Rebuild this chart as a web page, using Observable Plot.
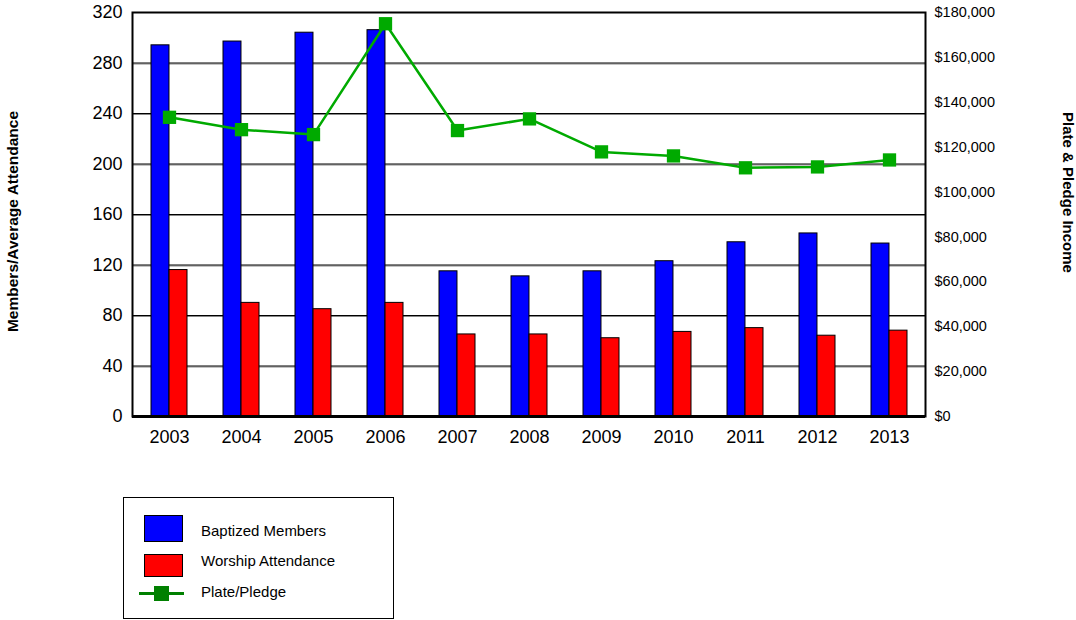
<!DOCTYPE html>
<html>
<head>
<meta charset="utf-8">
<script src="https://cdn.jsdelivr.net/npm/d3@7"></script>
<script src="https://cdn.jsdelivr.net/npm/@observablehq/plot@0.6"></script>
<style>
  body { margin: 0; background: #fff; font-family: "Liberation Sans", Arial, sans-serif; }
  #wrap { position: relative; width: 1076px; height: 620px; }
  #legend { position: absolute; left: 123px; top: 497px; width: 271px; height: 122px; border: 1px solid #000; box-sizing: border-box; }
  .sw { position: absolute; border: 1px solid #000; box-sizing: border-box; }
  .lt { position: absolute; left: 77px; font-size: 15px; color: #000; line-height: 17px; white-space: nowrap; }
</style>
</head>
<body>
<div id="wrap">
  <div id="chart"></div>
  <div id="legend">
    <div class="sw" style="left:20px;top:17px;width:39px;height:27px;background:#0000ff"></div>
    <div class="lt" style="top:24px">Baptized Members</div>
    <div class="sw" style="left:20px;top:56px;width:39px;height:23px;background:#ff0000"></div>
    <div class="lt" style="top:54px">Worship Attendance</div>
    <div style="position:absolute;left:15px;top:94px;width:45px;height:3px;background:#008000"></div>
    <div style="position:absolute;left:30px;top:88px;width:15px;height:15px;background:#008000"></div>
    <div class="lt" style="top:85px">Plate/Pledge</div>
  </div>
</div>
<script>
const years = ["2003","2004","2005","2006","2007","2008","2009","2010","2011","2012","2013"];
const baptized = [294, 297, 304, 306, 115, 111, 115, 123, 138, 145, 137];
const worship = [116, 90, 85, 90, 65, 65, 62, 67, 70, 64, 68];
const platePledge = [133300, 127800, 125600, 175000, 127400, 132600, 117900, 116100, 110800, 111200, 114300];
const leftTicks = [0, 40, 80, 120, 160, 200, 240, 280, 320];
const rightTicks = [0, 20000, 40000, 60000, 80000, 100000, 120000, 140000, 160000, 180000];

const leftMax = 320, rightMax = 180000;
const k = leftMax / rightMax;

const rows = years.map((y, i) => ({year: y, baptized: baptized[i], worship: worship[i], income: platePledge[i] * k}));
const fmt = d3.format(",");

const chart = Plot.plot({
  width: 1076,
  height: 460,
  marginLeft: 132,
  marginRight: 151,
  marginTop: 12,
  marginBottom: 44,
  style: {fontFamily: "'Liberation Sans', Arial, sans-serif", background: "#fff", overflow: "visible"},
  x: {type: "band", domain: years, paddingInner: 0.5, paddingOuter: 0.25, label: null},
  y: {domain: [0, leftMax], label: null},
  marks: [
    Plot.ruleY(leftTicks.filter(d => d > 0 && d < leftMax), {stroke: "#888", strokeWidth: 1, dy: 1}),
    Plot.ruleY(leftTicks.filter(d => d > 0 && d < leftMax), {stroke: "#000", strokeWidth: 1}),
    Plot.barY(rows, {x: "year", y: "baptized", fill: "#0000ff", stroke: "#000", strokeWidth: 1, insetRight: 18.02}),
    Plot.barY(rows, {x: "year", y: "worship", fill: "#ff0000", stroke: "#000", strokeWidth: 1, insetLeft: 18.02}),
    Plot.lineY(rows, {x: "year", y: "income", stroke: "#00aa00", strokeWidth: 2.5}),
    Plot.dot(rows, {x: "year", y: "income", symbol: "square", fill: "#00aa00", r: 7.5}),
    Plot.frame({stroke: "#000", strokeWidth: 2}),
    Plot.ruleX([0], {frameAnchor: "left", stroke: "#000", strokeWidth: 3}),
    Plot.ruleY([0], {stroke: "#000", strokeWidth: 3}),
    Plot.axisX({tickSize: 0, tickPadding: 14, fontSize: 18, label: null}),
    Plot.axisY({anchor: "left", ticks: leftTicks, tickSize: 0, tickPadding: 10, fontSize: 18, label: null}),
    Plot.axisY({anchor: "right", ticks: rightTicks.map(d => d * k), tickSize: 0, tickPadding: 9, fontSize: 14.5, label: null,
      tickFormat: d => "$" + fmt(Math.round(d / k))}),
    Plot.text(["Members/Average Attendance"], {frameAnchor: "left", textAnchor: "middle", dx: -119, dy: 7, rotate: -90, fontSize: 15.5, fontWeight: "bold", fill: "#000"}),
    Plot.text(["Plate & Pledge Income"], {frameAnchor: "right", textAnchor: "middle", dx: 142, dy: -22, rotate: 90, fontSize: 15, fontWeight: "bold", fill: "#000"})
  ]
});
document.getElementById("chart").appendChild(chart);
</script>
</body>
</html>
